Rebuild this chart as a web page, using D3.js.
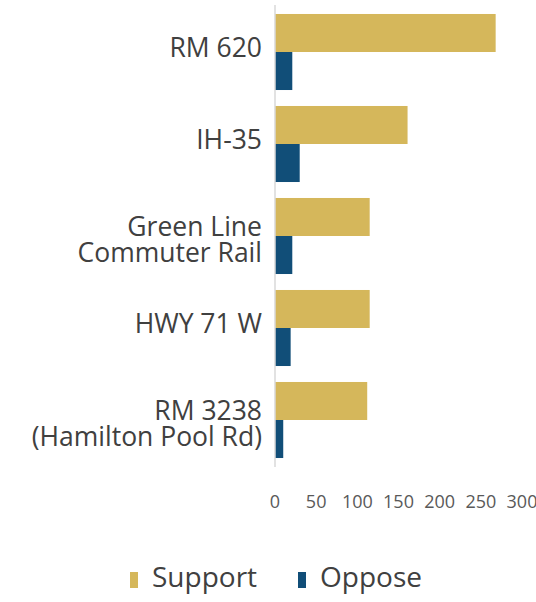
<!DOCTYPE html>
<html>
<head>
<meta charset="utf-8">
<script src="https://cdn.jsdelivr.net/npm/d3@7"></script>
<style>
  body { margin: 0; background: #fff; }
  text { font-family: "Open Sans", sans-serif; }
</style>
</head>
<body>
<div id="chart"></div>
<script>
const width = 536,
      height = 602;

const categories = ["RM 620", "IH-35", "Green Line Commuter Rail", "HWY 71 W", "RM 3238 (Hamilton Pool Rd)"];
const labelLines = [["RM 620"], ["IH-35"], ["Green Line", "Commuter Rail"], ["HWY 71 W"], ["RM 3238", "(Hamilton Pool Rd)"]];
const series = ["Support", "Oppose"];
const support = [268, 161, 115, 115, 112];
const oppose = [21, 30, 21, 19, 10];
const ticks = [0, 50, 100, 150, 200, 250, 300];

const colors = {Support: "#d5b75b", Oppose: "#114e78"};

const svg = d3.select("#chart")
  .append("svg")
  .attr("width", width)
  .attr("height", height);

const x = d3.scaleLinear()
  .domain([0, 300])
  .range([275, 522]);

const y0 = d3.scaleBand()
  .domain(categories)
  .range([6, 466]);

const y1 = d3.scaleBand()
  .domain(series)
  .range([0, y0.bandwidth()])
  .paddingOuter(0.21);

const rows = categories.map((c, i) => ({cat: c, Support: support[i], Oppose: oppose[i]}));

const groups = svg.selectAll(".group")
  .data(rows)
  .enter()
  .append("g")
  .attr("class", "group")
  .attr("transform", d => `translate(0, ${y0(d.cat)})`);

groups.selectAll("rect")
  .data(d => series.map(s => ({key: s, value: d[s]})))
  .enter()
  .append("rect")
  .attr("x", x(0))
  .attr("y", d => y1(d.key))
  .attr("width", d => x(d.value) - x(0))
  .attr("height", y1.bandwidth())
  .style("fill", d => colors[d.key]);

// axis line
svg.append("line")
  .attr("x1", x(0))
  .attr("x2", x(0))
  .attr("y1", 5)
  .attr("y2", 467)
  .style("stroke", "#d9d9d9")
  .style("stroke-width", 1.5);

// category labels, one text per line
const lineH = 26;
svg.selectAll(".cat-label")
  .data(labelLines)
  .enter()
  .append("g")
  .attr("class", "cat-label")
  .each(function(lines, i) {
    const mid = y0(categories[i]) + y0.bandwidth() / 2;
    const cy = lines.length > 1 ? mid + 4 : mid - 4;
    const start = cy - (lines.length - 1) * lineH / 2;
    d3.select(this).selectAll("text")
      .data(lines)
      .enter()
      .append("text")
      .attr("x", 262)
      .attr("y", (d, j) => start + j * lineH)
      .attr("dy", "0.35em")
      .attr("text-anchor", "end")
      .style("font-size", "26.5px")
      .style("fill", "#404040")
      .text(d => d);
  });

// x tick labels
svg.selectAll(".tick-label")
  .data(ticks)
  .enter()
  .append("text")
  .attr("class", "tick-label")
  .attr("x", d => x(d))
  .attr("y", 502)
  .attr("dy", "0.35em")
  .attr("text-anchor", "middle")
  .style("font-size", "18px")
  .style("fill", "#595959")
  .text(d => d);

// legend
const legendX = [130, 298];
const legend = svg.selectAll(".legend")
  .data(series)
  .enter()
  .append("g")
  .attr("class", "legend")
  .attr("transform", (d, i) => `translate(${legendX[i]}, 572)`);

legend.append("rect")
  .attr("width", 8)
  .attr("height", 16)
  .style("fill", d => colors[d]);

legend.append("text")
  .attr("x", 22)
  .attr("y", 15)
  .style("font-size", "28px")
  .style("fill", "#404040")
  .text(d => d);
</script>
</body>
</html>
